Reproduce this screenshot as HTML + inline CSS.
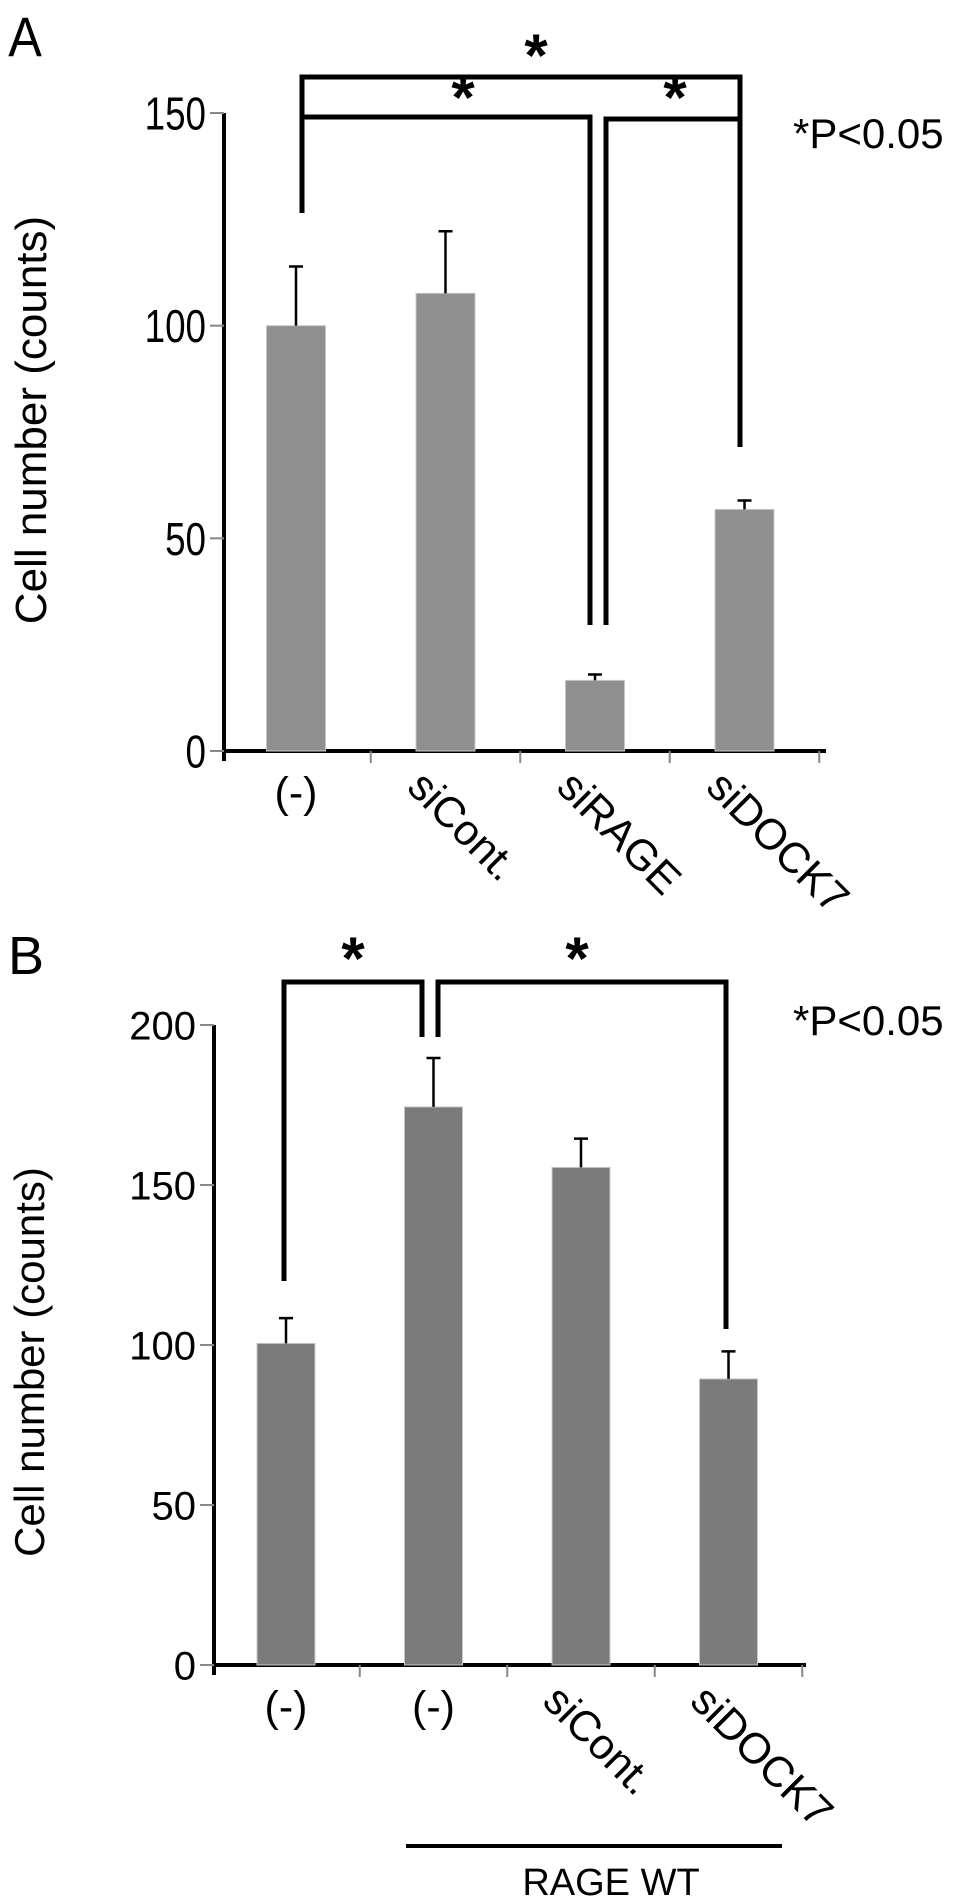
<!DOCTYPE html>
<html><head><meta charset="utf-8"><style>
html,body{margin:0;padding:0;background:#fff;}
svg{display:block;}
text{font-family:"Liberation Sans",Arial,sans-serif;fill:#000;}
</style></head><body>
<svg id="fig" width="969" height="1898" viewBox="0 0 969 1898" xmlns="http://www.w3.org/2000/svg">
<g id="panelA"></g>
<g id="panelB"></g>
</svg>
<script>
// Panel A data
const catsA = ["(-)", "siCont.", "siRAGE", "siDOCK7"];
const valsA = [100, 107.6, 16.6, 56.8];
const errsA = [113.9, 122.2, 18, 58.9];
const ticksA = [0, 50, 100, 150];
// Panel B data
const catsB = ["(-)", "(-)", "siCont.", "siDOCK7"];
const valsB = [100.5, 174.4, 155.5, 89.4];
const errsB = [108.4, 189.7, 164.5, 98];
const ticksB = [0, 50, 100, 150, 200];

const NS = "http://www.w3.org/2000/svg";
function mk(tag, attrs, parent, txt) {
  const e = document.createElementNS(NS, tag);
  for (const k in attrs) e.setAttribute(k, attrs[k]);
  if (txt !== undefined) e.textContent = txt;
  parent.appendChild(e);
  return e;
}

function panel(g, cfg) {
  const y = v => cfg.y0 - (v - 0) / cfg.vmax * (cfg.y0 - cfg.yTop);
  const xc = i => cfg.x0 + cfg.first + i * cfg.step;
  let el = mk("line", {x1: cfg.ax, y1: y(cfg.vmax), x2: cfg.ax, y2: cfg.y0 + 10, stroke: "#000", "stroke-width": 4}, g);
  
  
  el = mk("line", {x1: cfg.ax - 2, y1: cfg.y0, x2: cfg.xEnd, y2: cfg.y0, stroke: "#000", "stroke-width": 4}, g);
  
  
  cfg.ticks.forEach(t => {
    let tl = mk("line", {x1: cfg.ax - 14, y1: y(t), x2: cfg.ax, y2: y(t), stroke: "#888", "stroke-width": 2}, g);
    
    
    let tx = mk("text", {x: cfg.ax - 18, y: y(t) + cfg.tickFont * 0.36, "text-anchor": "end", "font-size": cfg.tickFont, transform: cfg.cond ? `translate(${(cfg.ax-18)*(1-cfg.cond)},0) scale(${cfg.cond},1)` : ""}, g, String(t));
    
    
  });
  for (let i = 1; i <= cfg.cats.length; i++) {
    const xt = xc(i - 1) + cfg.step / 2;
    let tl = mk("line", {x1: xt, y1: cfg.y0, x2: xt, y2: cfg.y0 + 12, stroke: "#888", "stroke-width": 2}, g);
    
    
  }
  cfg.vals.forEach((v, i) => {
    const c = xc(i);
    let b = mk("rect", {x: c - cfg.bw / 2, y: y(v), width: cfg.bw, height: cfg.y0 - y(v), fill: cfg.color, stroke: "#c8c8c8", "stroke-width": 1}, g);
    
    
    let e = mk("path", {d: `M${c},${y(v)}V${y(cfg.errs[i])}M${c - 7},${y(cfg.errs[i])}H${c + 7}`, stroke: "#000", "stroke-width": 2.5, fill: "none"}, g);
    
    
    const lab = cfg.cats[i];
    let t;
    if (lab === "(-)") {
      t = mk("text", {x: c, y: cfg.y0 + 56, "text-anchor": "middle", "font-size": 43}, g, lab);
    } else {
      const bx = c - 40, by = cfg.y0 + 38;
      t = mk("text", {x: bx, y: by, "font-size": 43, transform: `rotate(45 ${bx} ${by})`}, g, lab);
    }
    
    
  });
  let yt = mk("text", {x: 0, y: 0, "text-anchor": "middle", "font-size": cfg.yFont, transform: `translate(${cfg.ytX},${cfg.ytY}) rotate(-90)`}, g, "Cell number (counts)");
  
  
  return {y, xc};
}

function star(g, x, yy) {
  let s = mk("text", {x: x, y: yy + 26, "text-anchor": "middle", "font-size": 60, "font-weight": "bold"}, g, "*");
  
  
}
function br(g, d) {
  let p = mk("path", {d: d, stroke: "#000", "stroke-width": 5, fill: "none"}, g);
  
  
}

// Panel A
const gA = document.getElementById("panelA");
const A = panel(gA, {cats: catsA, vals: valsA, errs: errsA, ticks: ticksA, vmax: 150, y0: 751, yTop: 113,
  ax: 224, x0: 224, first: 72, step: 149.5, bw: 59, xEnd: 826, color: "#8f8f8f", tickFont: 46, cond: 0.8,
  yFont: 44, ytX: 46, ytY: 420});
let t = mk("text", {x: 8, y: 56, "font-size": 56, transform: "translate(1,0) scale(0.9,1)"}, gA, "A");
 
br(gA, "M302,213V77H740V447");
br(gA, "M302,117H590V625");
br(gA, "M606,625V119H740");
star(gA, 536, 50); star(gA, 463, 92); star(gA, 675, 92);
t = mk("text", {x: 793, y: 148, "font-size": 42}, gA, "*P<0.05");
 

// Panel B
const gB = document.getElementById("panelB");
const B = panel(gB, {cats: catsB, vals: valsB, errs: errsB, ticks: ticksB, vmax: 200, y0: 1665, yTop: 1025,
  ax: 214, x0: 214, first: 72, step: 147.5, bw: 58, xEnd: 806, color: "#7b7b7b", tickFont: 40, cond: 0,
  yFont: 42, ytX: 44, ytY: 1362});
t = mk("text", {x: 8, y: 974, "font-size": 54}, gB, "B");
 
br(gB, "M284,1281V982H422V1037");
br(gB, "M438,1037V982H726V1329");
star(gB, 353, 953); star(gB, 577, 953);
t = mk("text", {x: 793, y: 1035, "font-size": 42}, gB, "*P<0.05");
 
let ln = mk("line", {x1: 406, y1: 1846, x2: 782, y2: 1846, stroke: "#000", "stroke-width": 4}, gB);
 
t = mk("text", {x: 611, y: 1895, "text-anchor": "middle", "font-size": 38}, gB, "RAGE WT");
 
</script>
</body></html>
